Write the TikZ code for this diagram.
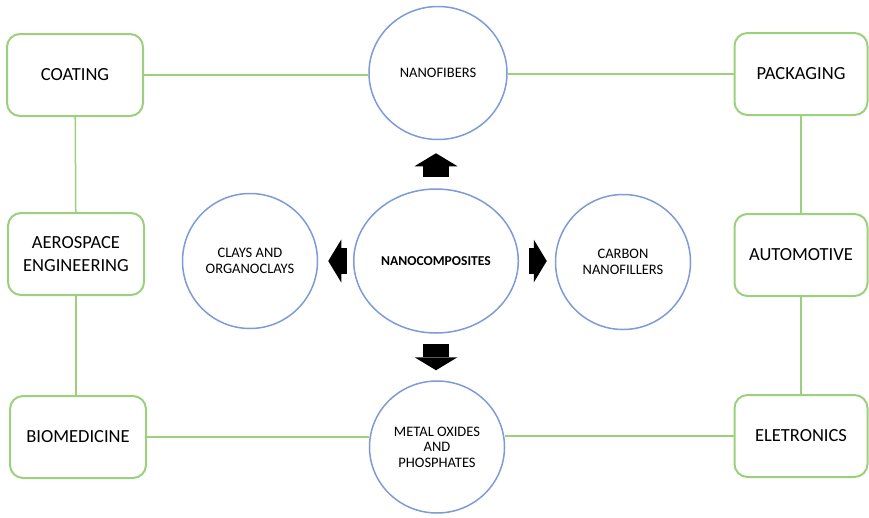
\documentclass[tikz,border=0pt]{standalone}
\usepackage{fontspec}
\setmainfont{Carlito}
\usetikzlibrary{shapes.geometric,arrows.meta}
\definecolor{boxgreen}{RGB}{155,208,125}
\definecolor{ringblue}{RGB}{125,155,215}

\begin{document}
\begin{tikzpicture}[x=1pt, y=-1pt,
        box/.style={draw=boxgreen, line width=2pt, rounded corners=13pt, minimum width=136pt, minimum height=82pt, align=center, font=\fontsize{18.5}{23}\selectfont},
        ring/.style={ellipse, draw=ringblue, line width=1.5pt, minimum width=135pt, minimum height=135pt, align=center, font=\fontsize{14.5}{15.5}\selectfont},
        link/.style={draw=boxgreen, line width=1.5pt},
        fat/.style={line width=26pt, -{Triangle[width=43pt, length=13pt, line width=0pt]}}]
                \useasboundingbox (0, 0) rectangle (869, 517);
                \node[box] (coating) at (75, 75) {COATING};
                \node[box] (aero) at (76, 254) {AEROSPACE\\ENGINEERING};
                \node[box] (bio) at (78, 437) {BIOMEDICINE};
                \node[box, minimum width=133pt] (pack) at (801, 74) {PACKAGING};
                \node[box, minimum width=133pt] (auto) at (801, 255) {AUTOMOTIVE};
                \node[box, minimum width=133pt] (elec) at (801, 436) {ELETRONICS};
                \node[ring, minimum width=138pt, minimum height=133pt] (fibers) at (438, 73) {NANOFIBERS};
                \node[ring, minimum width=159pt, minimum height=144pt, font=\bfseries\fontsize{13.6}{15}\selectfont] (core) at (436, 261) {NANOCOMPOSITES};
                \node[ring] (clays) at (250, 261) {CLAYS AND\\ORGANOCLAYS};
                \node[ring] (carbon) at (623, 262) {CARBON\\NANOFILLERS};
                \node[ring, minimum height=132pt] (metal) at (437, 447) {METAL OXIDES\\AND\\PHOSPHATES};
                \draw[link] (coating.east) -- (coating.east -| fibers.west);
                \draw[link] (pack.west) -- (pack.west -| fibers.east);
                \draw[link] (coating) -- (aero);
                \draw[link] (aero.south) -- (aero.south |- bio.north);
                \draw[link] (bio.east) -- (bio.east -| metal.west);
                \draw[link] (elec.west) -- (elec.west -| metal.east);
                \draw[link] (pack) -- (auto);
                \draw[link] (auto) -- (elec);
                \draw[fat, shorten <=11pt, shorten >=13pt] (core.north) -- (fibers.south -| core.north);
                \draw[fat, shorten <=10pt, shorten >=10pt] (core.south) -- (metal.north -| core.south);
                \draw[fat, shorten <=10pt, shorten >=8pt] (core.east) -- (carbon.west |- core.east);
                \draw[fat, shorten <=6pt, shorten >=10pt] (core.west) -- (clays.east |- core.west);
        \end{tikzpicture}
\end{document}
